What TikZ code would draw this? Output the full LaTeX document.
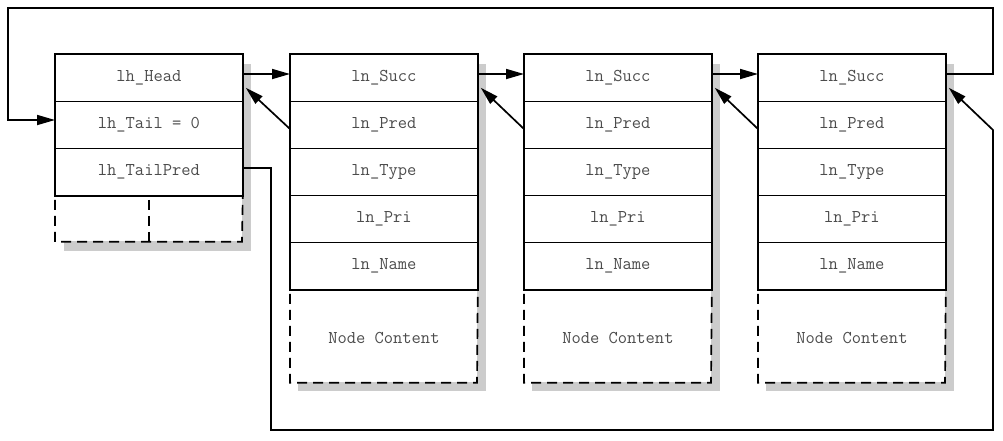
\documentclass[tikz,border=0pt]{standalone}
\usepackage{fontspec}
\usetikzlibrary{arrows.meta,calc}
\begin{document}
\begin{tikzpicture}[x=1pt,y=-1pt,
  cell/.style={draw, line width=0.8pt, minimum width=187pt, minimum height=47pt, inner sep=0pt,
    font=\ttfamily\fontsize{18}{20}\selectfont, text=black!70, anchor=north west},
  outer/.style={line width=1.7pt},
  dashline/.style={line width=1.7pt, dash pattern=on 10pt off 6pt, dash phase=-4pt},
  shadowbox/.style={fill=black!20, draw=none},
  arr/.style={line width=1.7pt, -{Triangle[length=18pt,width=10pt]}}]
\useasboundingbox (0,0) rectangle (1003,440);
% header
\fill[shadowbox] (64,64) rectangle (251,251);
\fill[white] (55,54) rectangle (242,241);
\node[cell] (h1) at (55,54) {lh\_Head};
\node[cell] (h2) at (55,101) {lh\_Tail = 0};
\node[cell] (h3) at (55,148) {lh\_TailPred};
\draw[outer] (h1.north west) rectangle (h3.south east);
\draw[dashline] (h3.south west) -- ++(0,46) -- ++(187,0) -- (h3.south east);
\draw[dashline] ($(h3.south west)!0.5!(h3.south east)$) -- ++(0,46);
% list nodes
\foreach \i/\x in {1/290,2/524,3/758} {
  \fill[shadowbox] (\x+8,64) rectangle (\x+196,391);
  \fill[white] (\x,54) rectangle (\x+187,382);
  \node[cell] (s\i) at (\x,54) {ln\_Succ};
  \node[cell] (p\i) at (\x,101) {ln\_Pred};
  \node[cell] (t\i) at (\x,148) {ln\_Type};
  \node[cell] (r\i) at (\x,195) {ln\_Pri};
  \node[cell] (n\i) at (\x,242) {ln\_Name};
  \draw[outer] (s\i.north west) rectangle (n\i.south east);
  \draw[dashline] (n\i.south west) -- ++(0,93) -- ++(187,0) -- (n\i.south east);
  \node[cell, draw=none, minimum height=97pt] (c\i) at (\x,289) {Node Content};
}
% successor arrows
\draw[arr] ($(h1.north east)+(0,20)$) -- ($(s1.north west)+(0,20)$);
\draw[arr] ($(s1.north east)+(0,20)$) -- ($(s2.north west)+(0,20)$);
\draw[arr] ($(s2.north east)+(0,20)$) -- ($(s3.north west)+(0,20)$);
% predecessor arrows
\draw[arr] ($(p1.north west)+(0,28)$) -- ($(h1.south east)+(3,-14)$);
\draw[arr] ($(p2.north west)+(0,28)$) -- ($(s1.south east)+(3,-14)$);
\draw[arr] ($(p3.north west)+(0,28)$) -- ($(s2.south east)+(3,-14)$);
% loops
\coordinate (topR) at (993,8);
\coordinate (topL) at (8,120);
\draw[arr] ($(s3.north east)+(0,20)$) -| (topR) -| (topL) -- ($(h2.north west)+(0,19)$);
\coordinate (botL) at (271,430);
\coordinate (botR) at (993,130);
\draw[arr] ($(h3.north east)+(0,20)$) -| (botL) -| (botR) -- ($(s3.south east)+(3,-14)$);
\end{tikzpicture}
\end{document}
